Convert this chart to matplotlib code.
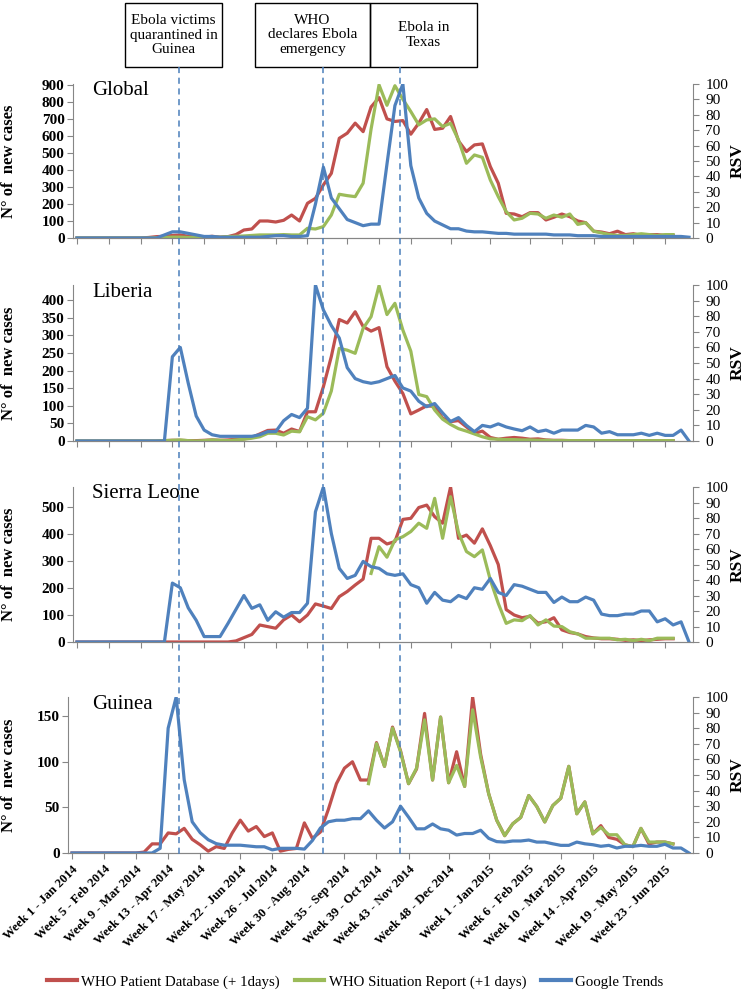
import numpy as np
import matplotlib
matplotlib.use('Agg')
import matplotlib.pyplot as plt
from matplotlib.lines import Line2D
from matplotlib.patches import Rectangle

plt.rcParams['font.family'] = ['Liberation Serif', 'DejaVu Serif']

nan = np.nan

# Week categories (Week 1 2014 .. Week 26 2015) and the labelled ones
weeks = [f'Week {w} - 2014' for w in range(1, 53)] + [f'Week {w} - 2015' for w in range(1, 27)]
tick_pos = [0, 4, 8, 12, 16, 21, 25, 29, 34, 38, 42, 47, 52, 57, 61, 65, 70, 74]
tick_labels = ['Week 1 - Jan 2014', 'Week 5 - Feb 2014', 'Week 9 - Mar 2014', 'Week 13 - Apr 2014',
               'Week 17 - May 2014', 'Week 22 - Jun 2014', 'Week 26 - Jul 2014', 'Week 30 - Aug 2014',
               'Week 35 - Sep 2014', 'Week 39 - Oct 2014', 'Week 43 - Nov 2014', 'Week 48 - Dec 2014',
               'Week 1 - Jan 2015', 'Week 6 - Feb 2015', 'Week 10 - Mar 2015', 'Week 14 - Apr 2015',
               'Week 19 - May 2015', 'Week 23 - Jun 2015']

# Global
global_db = [0, 0, 0, 0, 0, 0, 0, 0, 0, 3, 8, 10, 15, 18, 10, 8, 5, 10, 5, 8,
             20, 47, 53, 100, 100, 94, 104, 135, 100, 204, 233, 312, 380, 586, 616, 675, 625, 770, 825, 700,
             685, 690, 610, 675, 755, 638, 645, 714, 570, 508, 547, 553, 420, 322, 145, 141, 125, 149, 149, 106,
             122, 141, 125, 100, 90, 40, 35, 25, 40, 20, 25, 15, 20, 20, 15, 15, nan, nan]
global_sr = [0, 0, 0, 0, 0, 0, 0, 0, 0, 0, 2, 3, 5, 5, 3, 5, 5, 5, 5, 8,
             10, 12, 15, 18, 18, 18, 20, 18, 18, 57, 53, 67, 135, 257, 249, 243, 322, 640, 900, 780,
             895, 815, 743, 665, 694, 700, 655, 674, 576, 439, 488, 474, 341, 243, 155, 106, 116, 145, 141, 116,
             135, 122, 141, 80, 90, 40, 30, 20, 15, 15, 20, 25, 20, 15, 20, 20, nan, nan]
global_gt = [0, 0, 0, 0, 0, 0, 0, 0, 0, 0, 0, 2, 4, 4, 3, 2, 1, 1, 0.5, 0.5,
             0.5, 0.5, 0.5, 0.5, 1, 1.5, 1.5, 1, 1, 1.5, 22, 46, 26, 19, 12, 10, 8, 9, 9, 48,
             86, 100, 47, 26, 16, 11, 8.5, 6, 6, 4.5, 4, 4, 3.5, 3, 3, 2.5, 2.5, 2.5, 2.5, 2.5,
             2, 2, 2, 1.5, 1.5, 1.5, 1, 1, 1, 1, 1, 1, 1, 1, 1, 1, 1, 0.5]

# Liberia
liberia_db = [0, 0, 0, 0, 0, 0, 0, 0, 0, 0, 0, 1, 2, 2, 1, 1, 2, 3, 2, 3,
              5, 6, 10, 20, 30, 31, 22, 34, 27, 83, 83, 154, 240, 345, 335, 367, 325, 312, 322, 211,
              170, 135, 77, 88, 100, 98, 65, 55, 58, 40, 22, 28, 10, 5, 8, 10, 8, 5, 6, 3,
              2, 2, 1, 1, 1, 1, 1, 1, 1, 1, 1, 1, 1, 1, 1, 1, nan, nan]
liberia_sr = [0, 0, 0, 0, 0, 0, 0, 0, 0, 0, 0, 1, 2, 3, 1, 0, 1, 3, 2, 1,
              3, 5, 8, 12, 22, 22, 17, 28, 26, 69, 60, 79, 142, 263, 258, 249, 320, 353, 441, 359,
              391, 315, 255, 132, 126, 88, 62, 47, 35, 28, 20, 12, 6, 5, 4, 4, 3, 3, 2, 2,
              1, 1, 1, 1, 1, 1, 1, 1, 1, 1, 1, 1, 1, 1, 1, 1, nan, nan]
liberia_gt = [0, 0, 0, 0, 0, 0, 0, 0, 0, 0, 0, 0, 54, 60, 37, 16, 7, 4, 3, 3,
              3, 3, 3, 4, 6, 6, 13, 17, 15, 21, 100, 84, 74, 66, 47, 40, 38, 37, 38, 40,
              42, 34, 32, 25.5, 22, 24, 18, 12.5, 15, 10, 6, 10, 9, 11, 9, 7.7, 6.6, 9, 6, 7,
              5, 7, 7, 7, 10, 9, 5, 6, 4, 4, 4, 5, 3.6, 5, 3.6, 3.6, 7, 0]

# Sierra Leone
sierra_db = [0, 0, 0, 0, 0, 0, 0, 0, 0, 0, 0, 0, 0, 0, 0, 0, 0, 0, 0, 0,
             4, 16, 28, 63, 57, 51, 82, 100, 75, 100, 141, 133, 124, 168, 187, 211, 233, 384, 384, 363,
             372, 454, 458, 498, 507, 464, 440, 574, 384, 396, 366, 419, 357, 287, 120, 100, 90, 95, 70, 75,
             90, 45, 35, 30, 20, 15, 12, 12, 10, 6, 8, 5, 8, 10, 12, 12, nan, nan]
sierra_sr = [nan] * 37 + [254, 353, 314,
             378, 390, 409, 440, 421, 532, 384, 538, 405, 335, 316, 341, 230, 143, 69, 82, 79, 98, 63, 82,
             59, 57, 38, 30, 14, 14, 14, 14, 8, 10, 5, 10, 5, 14, 14, 14, nan, nan]
sierra_gt = [0, 0, 0, 0, 0, 0, 0, 0, 0, 0, 0, 0, 38, 35, 22, 14, 3.5, 3.5, 3.5, 12,
             21, 30, 21.7, 24, 14, 19.5, 16, 19, 19, 25, 84, 100, 70, 47.5, 41, 43, 52, 48.6, 47.5, 44,
             43, 44, 37, 35, 25, 32, 27, 26, 30, 28, 35, 34, 41, 32, 30, 37, 36, 34, 32, 32,
             25.5, 29, 26, 26, 29, 27, 18, 17, 17, 18, 18, 20, 20, 13, 15, 11, 13, 0]

# Guinea
guinea_db = [0, 0, 0, 0, 0, 0, 0, 0, 0, 1, 10, 10, 22, 21, 27, 15, 9, 2, 7, 5,
             22, 36, 24, 29, 18, 22, 2, 4, 5, 33, 16, 23, 48, 76, 93, 100, 80, 80, 121, 95,
             138, 112, 76, 92, 153, 80, 149, 77, 111, 73, 171, 108, 65, 36, 19, 32, 39, 63, 51, 34,
             52, 60, 95, 43, 56, 21, 30, 17, 15, 9, 7, 27, 10, 12, 12, 10, nan, nan]
guinea_sr = [nan] * 37 + [76, 120, 95,
             137, 111, 76, 93, 146, 80, 149, 77, 96, 73, 157, 105, 65, 36, 19, 32, 39, 63, 51, 34,
             52, 60, 95, 43, 56, 21, 28, 20, 20, 9, 7, 27, 12, 12, 12, 10, nan, nan]
guinea_gt = [0, 0, 0, 0, 0, 0, 0, 0, 0, 0, 0, 3, 80, 100, 47, 20, 13, 8.5, 6, 5,
             5, 5, 4.5, 4, 4, 2, 3, 3, 3, 2.5, 8, 16, 20, 21, 21, 22, 22, 27, 21, 16,
             20, 30, 23, 15.5, 15.5, 18.6, 15.5, 14.6, 11.5, 12.5, 12.5, 14.6, 9.4, 7.3, 7, 7.7, 7.7, 8.3, 7, 7,
             5.9, 4.9, 4.9, 7, 5.9, 5.3, 4.3, 4.9, 3.2, 4.3, 4.3, 4.9, 4.3, 4.3, 5.6, 3.2, 3.2, 0]

RED = '#C0504D'
GREEN = '#9BBB59'
BLUE = '#4F81BD'
GRAY = '#868686'
W, H = 745, 992


def rect(l, r, t, b):
    return [l / W, 1 - b / H, (r - l) / W, (b - t) / H]


fig = plt.figure(figsize=(7.45, 9.92), dpi=100)
x = np.arange(len(weeks))


def panel(box, name, red, green, blue, ymax, yticks, last=False):
    ax = fig.add_axes(box)
    ax2 = ax.twinx()
    ax.plot(x, red, color=RED, lw=2.3, solid_joinstyle='round')
    ax.plot(x, green, color=GREEN, lw=2.3, solid_joinstyle='round')
    ax2.plot(x, blue, color=BLUE, lw=2.3, solid_joinstyle='round')
    ax.set_xlim(-0.5, len(weeks) - 0.5)
    ax.set_ylim(0, ymax)
    ax2.set_ylim(0, 100)
    ax.set_yticks(yticks)
    ax2.set_yticks(range(0, 101, 10))
    for a in (ax, ax2):
        a.spines['top'].set_visible(False)
        for s in ('left', 'right', 'bottom'):
            a.spines[s].set_color(GRAY)
        a.tick_params(colors=GRAY, length=4, width=0.8, labelcolor='black')
    ax2.spines['left'].set_visible(False)
    ax.spines['right'].set_visible(False)
    ax.tick_params(axis='y', labelsize=11, pad=2)
    for lbl in ax.get_yticklabels():
        lbl.set_fontweight('bold')
    ax2.tick_params(axis='y', labelsize=11, pad=5)
    ax.set_xticks(tick_pos)
    if last:
        ax.set_xticklabels(tick_labels, rotation=45, ha='right', rotation_mode='anchor',
                           fontsize=9.2, fontweight='bold')
    else:
        ax.set_xticklabels([])
    # axis titles placed in pixels
    left = box[0] * W
    width = box[2] * W
    ax.set_ylabel('N° of  new cases', fontsize=12, fontweight='bold')
    ax.yaxis.set_label_coords((17 - left) / width, 0.5)
    ax2.set_ylabel('RSV', fontsize=12.5, fontweight='bold')
    ax2.yaxis.set_label_coords((730 - left) / width, 0.5)
    ax.text((92 - left) / width, 0.955, name, transform=ax.transAxes, fontsize=15, va='center', ha='left')
    return ax


panel(rect(73, 693, 84, 238), 'Global', global_db, global_sr, global_gt, 905, range(0, 901, 100))
panel(rect(73, 693, 285, 441), 'Liberia', liberia_db, liberia_sr, liberia_gt, 443, range(0, 401, 50))
panel(rect(73, 693, 487, 642), 'Sierra Leone', sierra_db, sierra_sr, sierra_gt, 574, range(0, 501, 100))
panel(rect(68, 693, 697, 853), 'Guinea', guinea_db, guinea_sr, guinea_gt, 171, range(0, 151, 50), last=True)

# event markers
for px in (179, 323, 400):
    fig.add_artist(Line2D([px / W, px / W], [1 - 67 / H, 1 - 858 / H], transform=fig.transFigure,
                          ls=(0, (4, 3)), color='#4A7EBB', lw=1.1))

boxes = [(125, 222, 'Ebola victims\nquarantined in\nGuinea'),
         (255, 370, 'WHO\ndeclares Ebola\nemergency'),
         (370, 477, 'Ebola in\nTexas')]
for l, r, txt in boxes:
    fig.add_artist(Rectangle((l / W, 1 - 67 / H), (r - l) / W, 64 / H, transform=fig.transFigure,
                             fill=False, ec='black', lw=1))
    fig.text((l + r) / 2 / W, 1 - 35 / H, txt, ha='center', va='center', fontsize=11, linespacing=1.15)

handles = [Line2D([], [], color=RED, lw=3), Line2D([], [], color=GREEN, lw=3), Line2D([], [], color=BLUE, lw=3)]
fig.legend(handles, ['WHO Patient Database (+ 1days)', 'WHO Situation Report (+1 days)', 'Google Trends'],
           loc='center', bbox_to_anchor=(0.477, 1 - 982 / H), ncol=3, frameon=False, fontsize=10.7,
           handlelength=2.0, handletextpad=0.3, columnspacing=1.0)

fig.savefig('out.png', dpi=100)
